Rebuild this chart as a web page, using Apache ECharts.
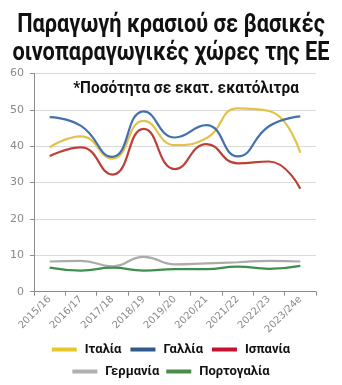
<!DOCTYPE html>
<html>
<head>
<meta charset="utf-8">
<script src="https://cdn.jsdelivr.net/npm/echarts@6/dist/echarts.min.js"></script>
<style>
  html, body { margin: 0; padding: 0; background: #fff; }
  #chart { width: 342px; height: 385px; }
</style>
</head>
<body>
<div id="chart"></div>
<script>
// Wine production, million hectolitres, by marketing year
const years = ['2015/16', '2016/17', '2017/18', '2018/19', '2019/20', '2020/21', '2021/22', '2022/23', '2023/24e'];
const italy    = [39.7, 42.7, 36.6, 47.0, 40.3, 42.2, 50.4, 49.7, 38.2];
const france   = [48.0, 45.6, 37.1, 49.6, 42.4, 45.8, 37.2, 45.5, 48.2];
const spain    = [37.3, 39.7, 32.2, 44.8, 33.7, 40.6, 35.3, 35.8, 28.3];
const germany  = [8.3, 8.5, 7.0, 9.6, 7.5, 7.8, 8.1, 8.5, 8.3];
const portugal = [6.6, 5.8, 6.6, 5.8, 6.2, 6.2, 6.9, 6.3, 7.1];
const yTicks = [0, 10, 20, 30, 40, 50, 60];

const names = ['Ιταλία', 'Γαλλία', 'Ισπανία', 'Γερμανία', 'Πορτογαλία'];
const lineColors = ['#E3C24A', '#4370AE', '#BE3F36', '#ABABAB', '#3F8E4C'];
const keyColors  = ['#E8C62A', '#2F5A8A', '#C8102E', '#B0B0B0', '#4A8A4A'];
const values = [italy, france, spain, germany, portugal];

const sans = 'Roboto, "Noto Sans", sans-serif';

const chart = echarts.init(document.getElementById('chart'), null, { renderer: 'canvas' });

const legendItems = names.map((n, i) => ({ name: n, itemStyle: { color: keyColors[i] } }));
const legendText = { fontFamily: sans, fontWeight: 'bold', fontSize: 13, color: '#111' };

chart.setOption({
  animation: false,
  color: lineColors,
  graphic: [
    {
      type: 'text', x: 171, y: 12, scaleX: 0.87,
      style: {
        text: 'Παραγωγή κρασιού σε βασικές\nοινοπαραγωγικές χώρες της ΕΕ',
        font: 'bold 25px Roboto, "Noto Sans", sans-serif',
        lineHeight: 28, align: 'center', fill: '#111'
      }
    },
    {
      type: 'text', x: 186, y: 81, scaleX: 0.96,
      style: {
        text: '*Ποσότητα σε εκατ. εκατόλιτρα',
        font: 'bold 16px Roboto, "Noto Sans", sans-serif',
        align: 'center', fill: '#111'
      }
    }
  ],
  legend: [
    {
      data: legendItems.slice(0, 3),
      top: 338, left: 'center',
      icon: 'rect', itemWidth: 25, itemHeight: 4, itemGap: 9,
      textStyle: Object.assign({ padding: [0, 0, 0, 3] }, legendText)
    },
    {
      data: legendItems.slice(3),
      top: 360, left: 'center',
      icon: 'rect', itemWidth: 25, itemHeight: 4, itemGap: 7,
      textStyle: Object.assign({ padding: [0, 0, 0, 3] }, legendText)
    }
  ],
  grid: { left: 34, right: 26, top: 73.5, bottom: 93.3, containLabel: false },
  xAxis: {
    type: 'category',
    data: years,
    boundaryGap: true,
    axisLine: { lineStyle: { color: '#8c8c8c' } },
    axisTick: { show: true, length: 4, lineStyle: { color: '#8c8c8c' } },
    axisLabel: { rotate: 45, fontSize: 10, color: '#8a8a8a', margin: 6, fontFamily: 'Verdana, "DejaVu Sans", sans-serif' }
  },
  yAxis: {
    type: 'value',
    min: yTicks[0], max: yTicks[yTicks.length - 1], interval: 10,
    axisLine: { show: true, lineStyle: { color: '#8c8c8c' } },
    axisTick: { show: true, length: 4, lineStyle: { color: '#8c8c8c' } },
    axisLabel: { fontSize: 11, color: '#8a8a8a', margin: 10, fontFamily: 'Verdana, "DejaVu Sans", sans-serif' },
    splitLine: { lineStyle: { color: '#d9d9d9' } }
  },
  series: names.map((n, i) => ({
    name: n,
    type: 'line',
    data: values[i],
    smooth: 0.5,
    showSymbol: false,
    lineStyle: { width: 2.2, color: lineColors[i] },
    itemStyle: { color: keyColors[i] }
  }))
});
</script>
</body>
</html>
